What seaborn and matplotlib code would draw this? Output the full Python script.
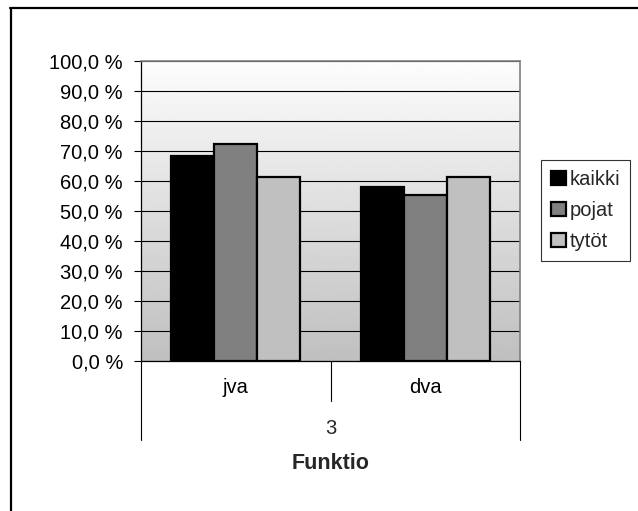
import numpy as np
import pandas as pd
import matplotlib
matplotlib.use("Agg")
import matplotlib.pyplot as plt
from matplotlib.ticker import FuncFormatter, MultipleLocator
from matplotlib.lines import Line2D
import seaborn as sns

categories = ["jva", "dva"]
series = ["kaikki", "pojat", "tytöt"]
kaikki = [68.3, 57.9]
pojat = [72.5, 55.4]
tytot = [61.5, 61.5]
colors = ["#000000", "#808080", "#c0c0c0"]
group_label = "3"
x_title = "Funktio"

sns.set_theme(style="white")
plt.rcParams["font.family"] = ["Liberation Sans", "DejaVu Sans"]

rows = []
for name, vals in zip(series, [kaikki, pojat, tytot]):
    for c, v in zip(categories, vals):
        rows.append({"cat": c, "series": name, "value": v})
df = pd.DataFrame(rows)

FS = 14.5
W, H = 638, 511
fig = plt.figure(figsize=(W / 100, H / 100), dpi=100)
fig.patch.set_facecolor("white")
ax = fig.add_axes([141 / W, 150 / H, (520 - 141) / W, 300 / H])

sns.barplot(data=df, x="cat", y="value", hue="series", order=categories,
            hue_order=series, palette=colors, width=0.68, gap=0,
            edgecolor="black", linewidth=1.6, saturation=1, ax=ax, zorder=2)

ax.set_xlim(-0.5, 1.5)
ax.set_ylim(0, 100)

# gradient background
grad = np.linspace(0.75, 0.99, 256).reshape(-1, 1)
ax.imshow(grad, extent=[0, 1, 0, 1], transform=ax.transAxes, cmap="gray",
          vmin=0, vmax=1, aspect="auto", origin="lower", zorder=0)
ax.set_facecolor("white")

ax.yaxis.set_major_locator(MultipleLocator(10))
ax.yaxis.set_major_formatter(FuncFormatter(lambda v, p: f"{v:.1f}".replace(".", ",") + " %"))
ax.grid(axis="y", color="black", linewidth=0.8, zorder=1)
ax.set_axisbelow(True)

for s in ["top", "right"]:
    ax.spines[s].set_color("#808080")
    ax.spines[s].set_linewidth(1.2)
ax.spines["left"].set_color("black")
ax.spines["bottom"].set_color("black")
ax.spines["left"].set_linewidth(0.9)
ax.spines["bottom"].set_linewidth(0.9)

ax.tick_params(axis="y", left=True, length=5, width=0.8, color="black",
               labelsize=FS, pad=8, labelcolor="black")
ax.tick_params(axis="x", bottom=False, length=0, labelsize=FS, pad=12,
               labelcolor="black")
ax.set_ylabel("")

# category separators
tr = ax.get_xaxis_transform()
for xb, y_end in [(-0.5, -79 / 300), (0.5, -40 / 300), (1.5, -79 / 300)]:
    ax.add_line(Line2D([xb, xb], [0, y_end], transform=tr, color="black",
                       linewidth=0.8, clip_on=False))

ax.text(0.5, -(428 - 361) / 300, group_label, transform=ax.transAxes,
        ha="center", va="center", fontsize=FS)
ax.set_xlabel(x_title, fontsize=15.5, fontweight="bold")
ax.xaxis.set_label_coords(0.5, -(463 - 361) / 300)
ax.xaxis.label.set_va("center")

handles, labels = ax.get_legend_handles_labels()
if ax.legend_:
    ax.legend_.remove()
leg = fig.legend(handles, labels, loc="upper left",
                 bbox_to_anchor=(541 / W, 1 - 160 / H), frameon=True,
                 fancybox=False, edgecolor="black", fontsize=FS,
                 handlelength=0.72, handleheight=0.72, handletextpad=0.2,
                 labelspacing=0.6, borderpad=0.5, borderaxespad=0)
leg.get_frame().set_linewidth(0.8)

# outer chart border (top and left)
fig.add_artist(Line2D([10 / W, 1], [1 - 8 / H, 1 - 8 / H], transform=fig.transFigure,
                      color="black", linewidth=1.6))
fig.add_artist(Line2D([11 / W, 11 / W], [0, 1 - 8 / H], transform=fig.transFigure,
                      color="black", linewidth=1.6))

fig.savefig("out.png", dpi=100)
